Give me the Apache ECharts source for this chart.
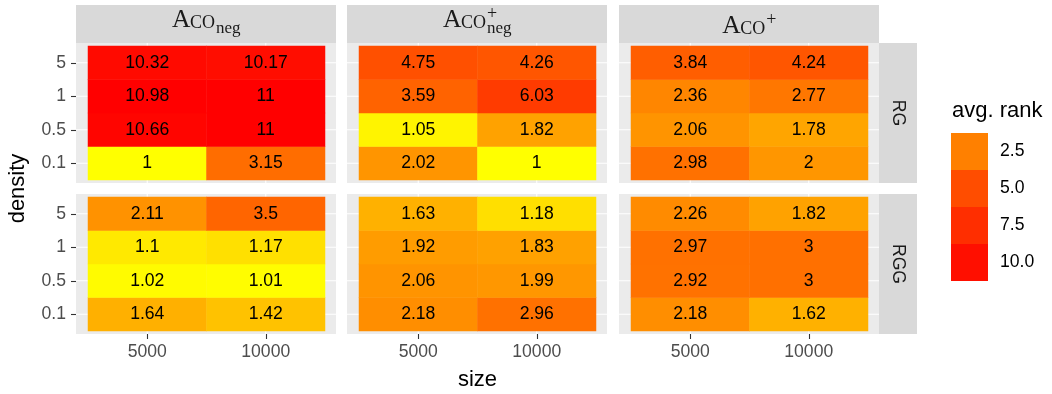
<!DOCTYPE html>
<html>
<head>
<meta charset="utf-8">
<script src="https://cdn.jsdelivr.net/npm/echarts@6/dist/echarts.min.js"></script>
<style>
html, body { margin: 0; padding: 0; background: #ffffff; }
#chart { width: 1052px; height: 394px; }
</style>
</head>
<body>
<div id="chart"></div>
<script>
// ---- data -------------------------------------------------------------
const sizes = ['5000', '10000'];
const densities = ['0.1', '0.5', '1', '5'];
const graphTypes = ['RG', 'RGG'];
const legendBreaks = [2.5, 5.0, 7.5, 10.0];

// avg. rank; rows follow densities (0.1, 0.5, 1, 5), each row is [size 5000, size 10000]
const rgAcoNeg      = [[1, 3.15], [10.66, 11], [10.98, 11], [10.32, 10.17]];
const rgAcoPlusNeg  = [[2.02, 1], [1.05, 1.82], [3.59, 6.03], [4.75, 4.26]];
const rgAcoPlus     = [[2.98, 2], [2.06, 1.78], [2.36, 2.77], [3.84, 4.24]];
const rggAcoNeg     = [[1.64, 1.42], [1.02, 1.01], [1.1, 1.17], [2.11, 3.5]];
const rggAcoPlusNeg = [[2.18, 2.96], [2.06, 1.99], [1.92, 1.83], [1.63, 1.18]];
const rggAcoPlus    = [[2.18, 1.62], [2.92, 3], [2.97, 3], [2.26, 1.82]];

// facet columns: Aco with optional superscript / subscript
const methods = [
  { sup: '', sub: 'neg' },
  { sup: '+', sub: 'neg' },
  { sup: '+', sub: '' }
];
const panelValues = [
  [rgAcoNeg, rgAcoPlusNeg, rgAcoPlus],
  [rggAcoNeg, rggAcoPlusNeg, rggAcoPlus]
];

// ---- fill scale (yellow -> red, green channel against avg. rank) -------
const rankMin = 1, rankMax = 11;
const fillAnchors = [[1, 255], [1.1, 233], [1.2, 220], [1.42, 194], [1.63, 176], [1.8, 163],
  [2, 150], [2.5, 128], [3, 112], [3.5, 101], [4.25, 86], [5, 77], [6, 59], [7.5, 46], [10, 15], [11, 0]];
function fillColor(v) {
  let g = fillAnchors[fillAnchors.length - 1][1];
  for (let i = 1; i < fillAnchors.length; i++) {
    const [v0, g0] = fillAnchors[i - 1], [v1, g1] = fillAnchors[i];
    if (v <= v1) { g = g0 + (g1 - g0) * (v - v0) / (v1 - v0); break; }
  }
  return 'rgb(255,' + Math.round(Math.max(0, Math.min(255, g))) + ',0)';
}
const palette = [];
for (let i = 0; i <= 100; i++) palette.push(fillColor(rankMin + (rankMax - rankMin) * i / 100));

// ---- layout -----------------------------------------------------------
const panelLeft = [76, 347, 619];
const panelTop = [43, 194];
const panelW = 260, panelH = 140;
const tilePadL = 12, tileW = 237, tilePadT = 3, tileH = 134;
const stripTop = 5, stripH = 38;
const stripRightX = 879, stripW = 38;

const SANS = '"Liberation Sans", Arial, sans-serif';
const SERIF = '"Liberation Serif", "Times New Roman", serif';

const grids = [], xAxes = [], yAxes = [], series = [], graphics = [];

graphTypes.forEach((gt, r) => {
  methods.forEach((m, c) => {
    const idx = r * 3 + c;
    const left = panelLeft[c] + tilePadL, top = panelTop[r] + tilePadT;
    grids.push({ left, top, width: tileW, height: tileH, containLabel: false });
    xAxes.push({
      type: 'category', data: sizes, gridIndex: idx, position: 'bottom', offset: 3,
      axisLine: { show: false },
      axisTick: { show: r === 1, alignWithLabel: true, length: 5, lineStyle: { color: '#333333', width: 1.1 } },
      axisLabel: { show: r === 1, margin: 9, fontSize: 17.6, color: '#4D4D4D', fontFamily: SANS },
      splitLine: { show: false }
    });
    yAxes.push({
      type: 'category', data: densities, gridIndex: idx, position: 'left', offset: 12,
      axisLine: { show: false },
      axisTick: { show: c === 0, alignWithLabel: true, length: 5, lineStyle: { color: '#333333', width: 1.1 } },
      axisLabel: { show: c === 0, margin: 10, fontSize: 17.6, color: '#4D4D4D', fontFamily: SANS },
      splitLine: { show: false }
    });
    const data = [];
    panelValues[r][c].forEach((row, yi) => row.forEach((v, xi) => data.push([xi, yi, v])));
    series.push({
      type: 'heatmap', xAxisIndex: idx, yAxisIndex: idx, data,
      itemStyle: { borderWidth: 0 },
      label: {
        show: true, fontSize: 17.6, color: '#000000', fontFamily: SANS,
        formatter: p => String(p.value[2])
      },
      emphasis: { disabled: true }
    });

    // panel background and white grid lines through category centres
    const px = panelLeft[c], py = panelTop[r];
    graphics.push({ type: 'rect', z: 0, shape: { x: px, y: py, width: panelW, height: panelH },
      style: { fill: '#EBEBEB' }, silent: true });
    for (let j = 0; j < densities.length; j++) {
      const y = top + (j + 0.5) * tileH / densities.length;
      graphics.push({ type: 'line', z: 1, silent: true, shape: { x1: px, y1: y, x2: px + panelW, y2: y },
        style: { stroke: '#FFFFFF', lineWidth: 1.1 } });
    }
    for (let k = 0; k < sizes.length; k++) {
      const x = left + (k + 0.5) * tileW / sizes.length;
      graphics.push({ type: 'line', z: 1, silent: true, shape: { x1: x, y1: py, x2: x, y2: py + panelH },
        style: { stroke: '#FFFFFF', lineWidth: 1.1 } });
    }
  });
});

// ---- facet strips -----------------------------------------------------
const measureCtx = document.createElement('canvas').getContext('2d');
function serifWidth(t, size) { measureCtx.font = size + 'px ' + SERIF; return measureCtx.measureText(t).width; }
const sizeA = 25.5, sizeCO = 18, sizeSub = 17, sizeSup = 18;
const midK = 0.34; // canvas 'middle' sits about this far (in em) above the baseline

function serifText(x, y, text, size) {
  return { type: 'text', z: 5, silent: true, x, y,
    style: { text, font: size + 'px ' + SERIF, fill: '#1A1A1A', align: 'left', verticalAlign: 'middle' } };
}

methods.forEach((m, c) => {
  const px = panelLeft[c];
  graphics.push({ type: 'rect', z: 0, silent: true, shape: { x: px, y: stripTop, width: panelW, height: stripH },
    style: { fill: '#D9D9D9' } });
  const wA = serifWidth('A', sizeA), wCO = serifWidth('CO', sizeCO);
  const wTail = Math.max(m.sup ? serifWidth(m.sup, sizeSup) : 0, m.sub ? serifWidth(m.sub, sizeSub) : 0);
  const x0 = px + panelW / 2 - (wA + wCO + wTail) / 2;
  const baseA = m.sub ? stripTop + 24 : stripTop + 30;
  graphics.push(serifText(x0, baseA - midK * sizeA, 'A', sizeA));
  graphics.push(serifText(x0 + wA - 0.5, baseA - midK * sizeCO, 'CO', sizeCO));
  if (m.sup) graphics.push(serifText(x0 + wA + wCO + 0.5, baseA - 15, m.sup, sizeSup));
  if (m.sub) graphics.push(serifText(x0 + wA + wCO + 0.5, baseA + 5 - midK * sizeSub, m.sub, sizeSub));
});

graphTypes.forEach((gt, r) => {
  const py = panelTop[r];
  graphics.push({ type: 'rect', z: 0, silent: true, shape: { x: stripRightX, y: py, width: stripW, height: panelH },
    style: { fill: '#D9D9D9' } });
  graphics.push({ type: 'text', z: 5, silent: true, x: stripRightX + stripW / 2, y: py + panelH / 2,
    rotation: -Math.PI / 2,
    style: { text: gt, font: '17.6px ' + SANS, fill: '#1A1A1A', align: 'center', verticalAlign: 'middle' } });
});

// ---- axis titles and legend title --------------------------------------
graphics.push({ type: 'text', silent: true, x: 18, y: (panelTop[0] + panelTop[1] + panelH) / 2, rotation: Math.PI / 2,
  style: { text: 'density', font: '22px ' + SANS, fill: '#000000', align: 'center', verticalAlign: 'middle' } });
graphics.push({ type: 'text', silent: true, x: (panelLeft[0] + panelLeft[2] + panelW) / 2, y: 380,
  style: { text: 'size', font: '22px ' + SANS, fill: '#000000', align: 'center', verticalAlign: 'middle' } });
graphics.push({ type: 'text', silent: true, x: 952, y: 111,
  style: { text: 'avg. rank', font: '22px ' + SANS, fill: '#000000', align: 'left', verticalAlign: 'middle' } });

const option = {
  backgroundColor: '#FFFFFF',
  animation: false,
  grid: grids,
  xAxis: xAxes,
  yAxis: yAxes,
  visualMap: [
    {
      type: 'continuous', show: false, dimension: 2, min: rankMin, max: rankMax,
      seriesIndex: series.map((s, i) => i),
      inRange: { color: palette }
    },
    {
      type: 'piecewise', seriesIndex: [], orient: 'vertical', inverse: true, align: 'left',
      left: 951, top: 133, padding: 0,
      itemWidth: 37, itemHeight: 37, itemGap: 0, itemSymbol: 'rect', textGap: 12,
      hoverLink: false, selectedMode: false,
      textStyle: { fontSize: 17.6, color: '#000000', fontFamily: SANS },
      pieces: legendBreaks.map(b => ({ min: b - 1.25, max: b + 1.25, label: b.toFixed(1), color: fillColor(b) }))
    }
  ],
  graphic: { elements: graphics },
  series
};

const chart = echarts.init(document.getElementById('chart'));
chart.setOption(option);
</script>
</body>
</html>
